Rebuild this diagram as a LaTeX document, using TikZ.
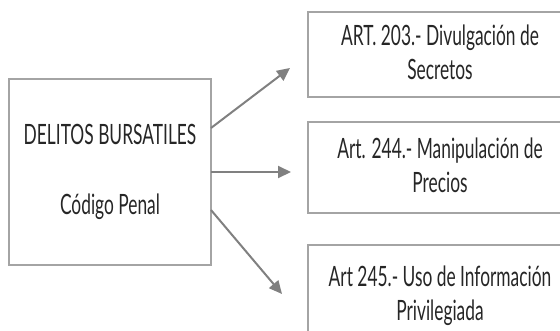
\documentclass[tikz,border=0pt]{standalone}
\usepackage{fontspec}
\setmainfont{Lato}[FakeStretch=0.62]
\usetikzlibrary{arrows.meta}
\definecolor{boxgray}{HTML}{A4A4A4}
\definecolor{arrowgray}{HTML}{808080}
\begin{document}
\begin{tikzpicture}[x=1pt,y=-1pt,
  txt/.style={align=center,font=\fontsize{28}{32}\selectfont,text=black!85},
  box/.style={txt,draw=boxgray,line width=1.5pt,rectangle,inner sep=0pt},
  conn/.style={draw=arrowgray,line width=2pt,-{Triangle[length=13pt,width=12pt]}}]
\clip (0,0) rectangle (560,330);
\useasboundingbox (0,0) rectangle (560,330);
\node[box,minimum width=202pt,minimum height=186pt] (main) at (110,172)
  {DELITOS BURSATILES\\[38pt]Código Penal};
\node[box,minimum width=264pt,minimum height=85pt,text depth=5pt] (a1) at (440,54.5)
  {ART. 203.- Divulgación de\\[2pt]Secretos};
\node[box,minimum width=264pt,minimum height=91pt,text depth=5pt] (a2) at (440,167.5)
  {Art. 244.- Manipulación de\\[2pt]Precios};
\node[box,minimum width=264pt,minimum height=100pt,anchor=north] (a3) at (440,244)
  {};
\node[txt] (t3) at (440,296)
  {Art 245.- Uso de Información\\[2pt]Privilegiada};
\coordinate (e1) at (211,128);
\coordinate (e2) at (211,172);
\coordinate (e3) at (211,210);
\coordinate (p1) at (290,68);
\coordinate (p2) at (291,172);
\coordinate (p3) at (282,294);
\draw[conn] (e1) -- (p1);
\draw[conn] (e2) -- (p2);
\draw[conn] (e3) -- (p3);
\end{tikzpicture}
\end{document}
